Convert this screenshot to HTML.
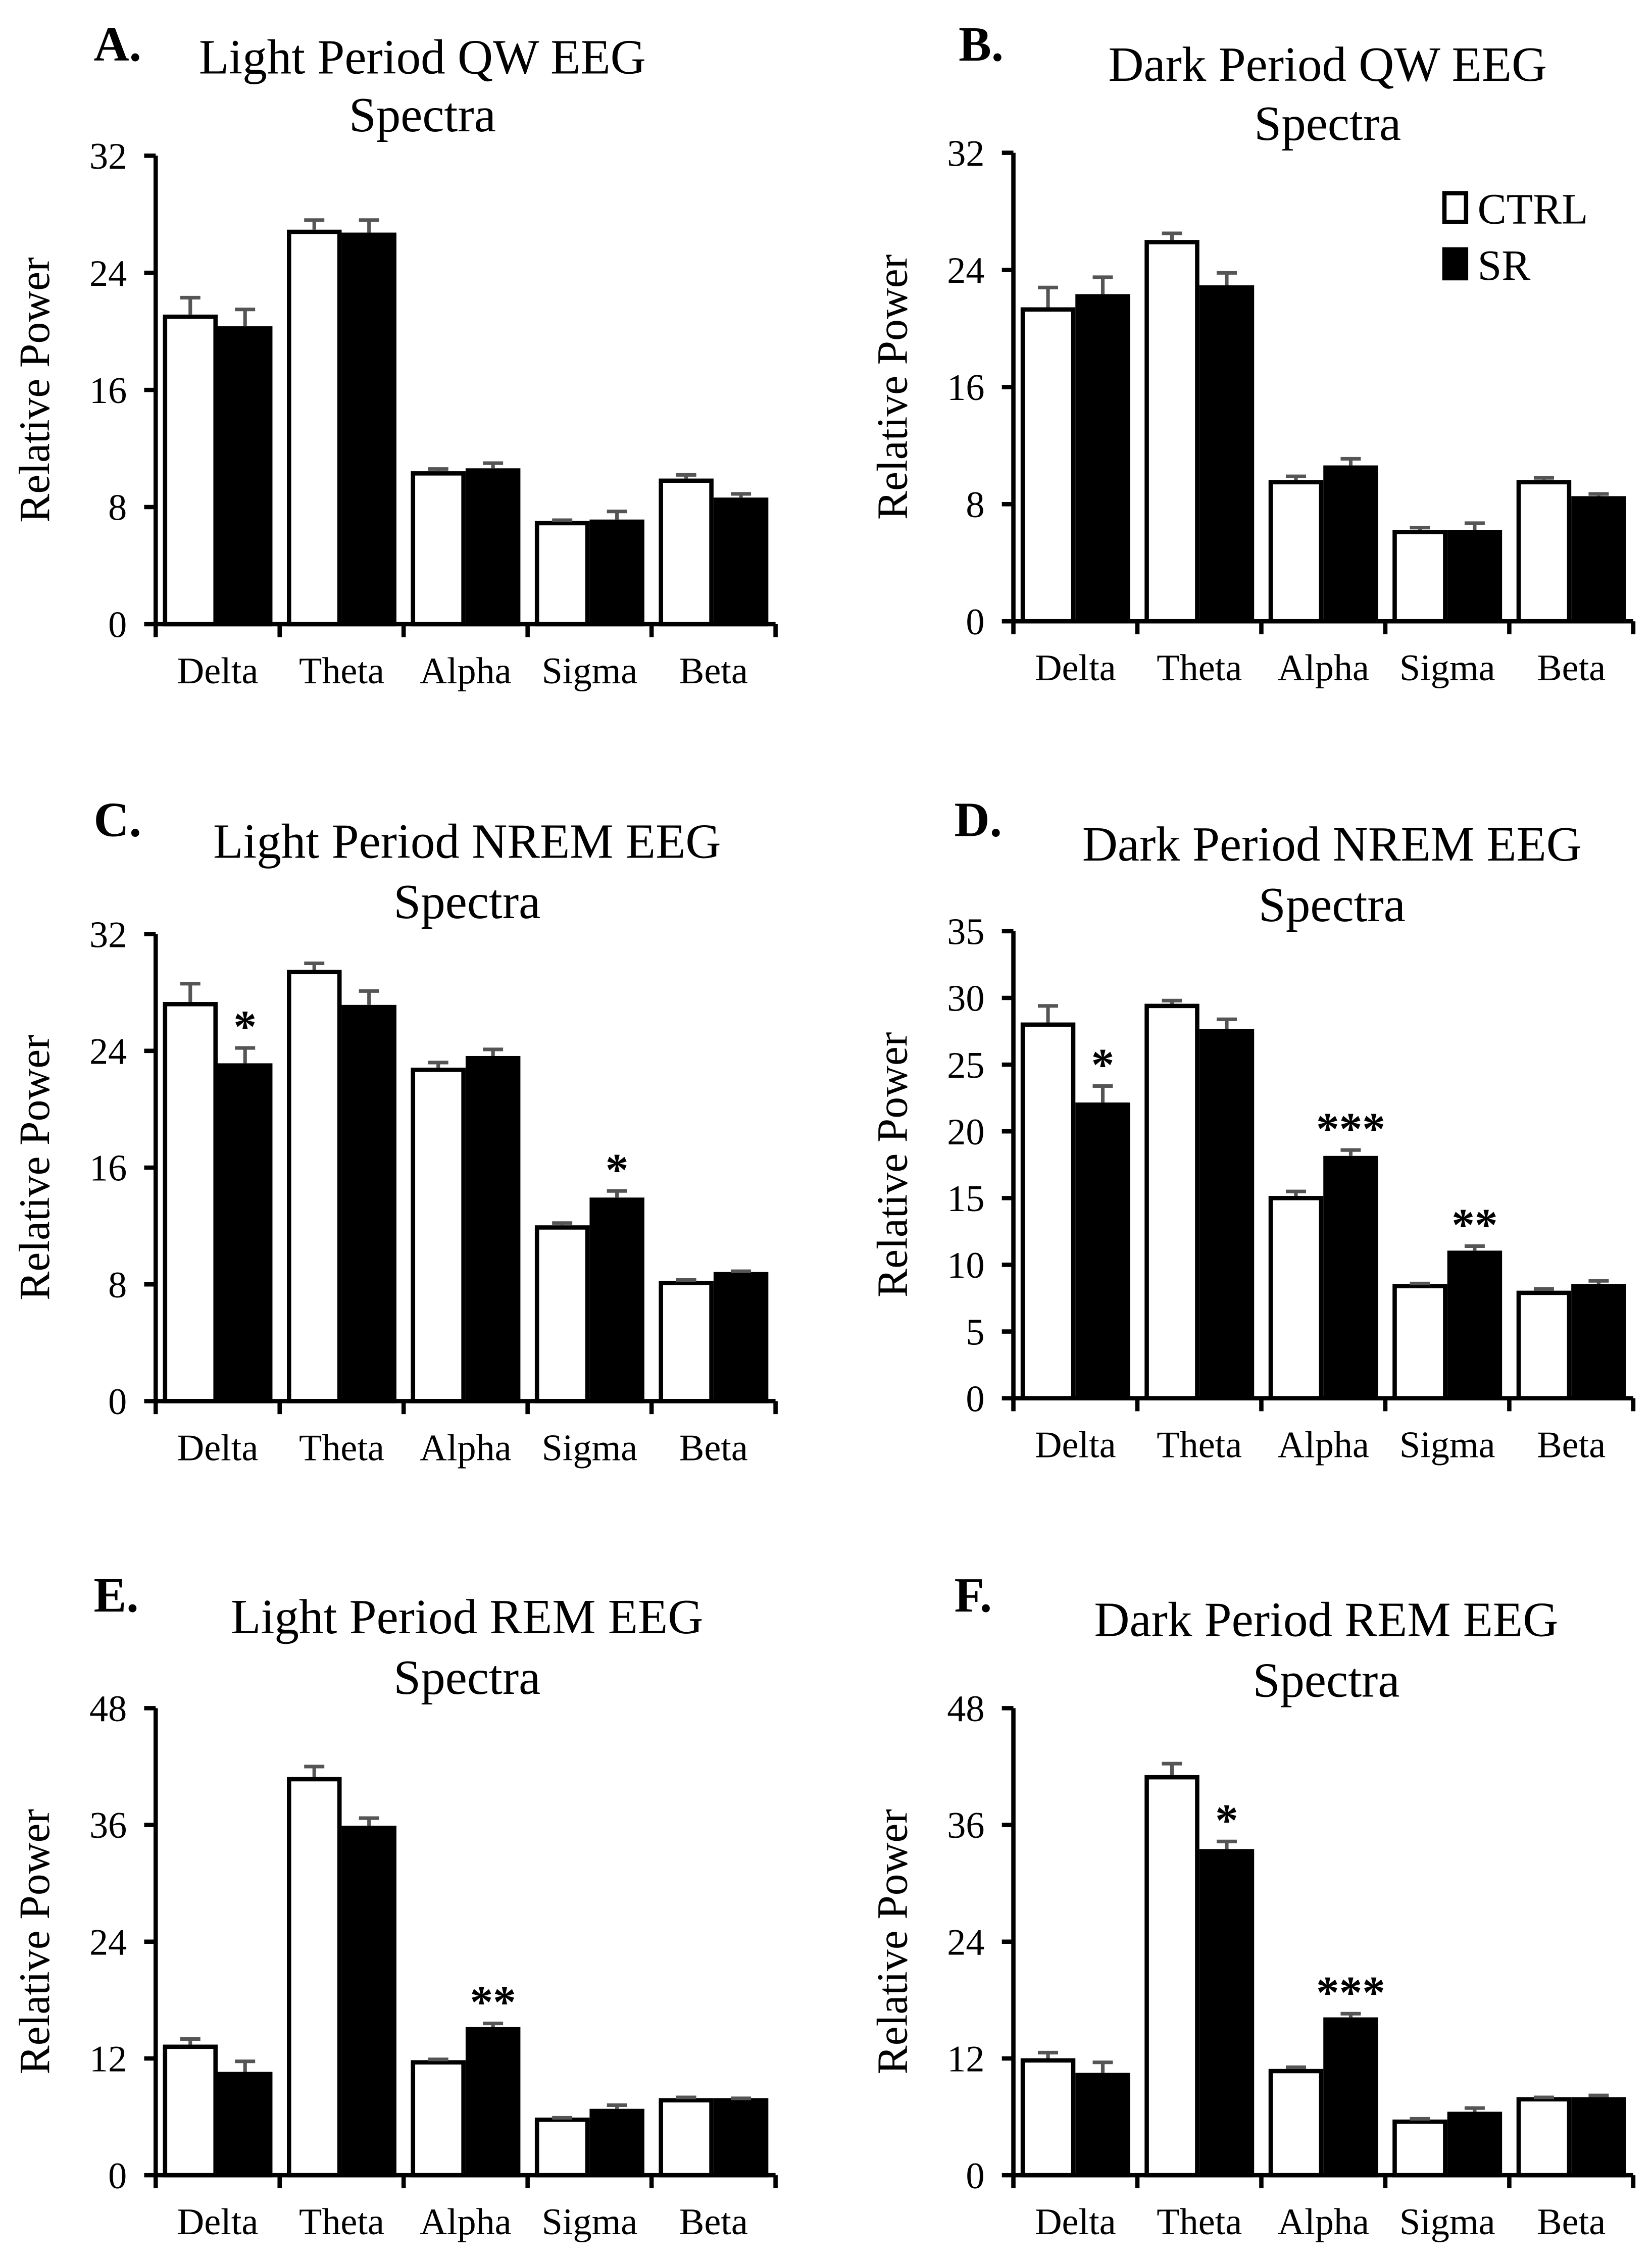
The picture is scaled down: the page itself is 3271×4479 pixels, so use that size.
<!DOCTYPE html>
<html><head><meta charset="utf-8"><style>
html,body{margin:0;padding:0;background:#fff}
svg{display:block}
text{font-family:"Liberation Serif",serif;fill:#000}
</style></head><body>
<svg id="fig" width="3271" height="4479" viewBox="0 0 1146 1569.2" xmlns="http://www.w3.org/2000/svg"></svg>
<script>
const categories = ["Delta","Theta","Alpha","Sigma","Beta"];
const ctrlA = [21.0,26.8,10.3,6.9,9.8], srA = [20.2,26.6,10.5,7.0,8.5];
const ctrlErrA = [1.3,0.8,0.3,0.2,0.4], srErrA = [1.3,1.0,0.5,0.7,0.4];
const ctrlB = [21.3,25.9,9.5,6.1,9.5], srB = [22.2,22.8,10.5,6.1,8.4];
const ctrlErrB = [1.5,0.6,0.4,0.3,0.3], srErrB = [1.3,1.0,0.6,0.6,0.3];
const ctrlC = [27.2,29.4,22.7,11.9,8.1], srC = [23.0,27.0,23.5,13.8,8.7];
const ctrlErrC = [1.4,0.6,0.5,0.3,0.2], srErrC = [1.2,1.1,0.6,0.6,0.2];
const ctrlD = [28.0,29.4,15.0,8.4,7.9], srD = [22.0,27.5,18.0,10.9,8.4];
const ctrlErrD = [1.4,0.4,0.5,0.2,0.3], srErrD = [1.4,0.9,0.6,0.5,0.4];
const ctrlE = [13.2,40.7,11.6,5.7,7.7], srE = [10.4,35.7,15.0,6.6,7.7];
const ctrlErrE = [0.8,1.3,0.3,0.2,0.3], srErrE = [1.3,1.0,0.6,0.6,0.2];
const ctrlF = [11.8,40.9,10.7,5.5,7.8], srF = [10.3,33.3,16.0,6.3,7.8];
const ctrlErrF = [0.8,1.4,0.4,0.3,0.2], srErrF = [1.3,1.0,0.6,0.6,0.4];
const starsC = ["*","","","*",""], starsD = ["*","","***","**",""];
const starsE = ["","","**","",""], starsF = ["","*","***","",""];
const ticks32 = [0,8,16,24,32], ticks35 = [0,5,10,15,20,25,30,35], ticks48 = [0,12,24,36,48];

const panels = [
 {id:"a",letter:"A.",t1:"Light Period QW EEG",t2:"Spectra",x0:108,top:108,bot:433,max:32,ticks:ticks32,c:ctrlA,s:srA,ce:ctrlErrA,se:srErrA,st:null,lx:65,ly:42,tx:293,ty1:51,ty2:91},
 {id:"b",letter:"B.",t1:"Dark Period QW EEG",t2:"Spectra",x0:703,top:106,bot:431,max:32,ticks:ticks32,c:ctrlB,s:srB,ce:ctrlErrB,se:srErrB,st:null,lx:665,ly:42,tx:921,ty1:56,ty2:97,legend:true},
 {id:"c",letter:"C.",t1:"Light Period NREM EEG",t2:"Spectra",x0:108,top:648,bot:972,max:32,ticks:ticks32,c:ctrlC,s:srC,ce:ctrlErrC,se:srErrC,st:starsC,lx:65,ly:580,tx:324,ty1:595,ty2:637},
 {id:"d",letter:"D.",t1:"Dark Period NREM EEG",t2:"Spectra",x0:703,top:646,bot:970,max:35,ticks:ticks35,c:ctrlD,s:srD,ce:ctrlErrD,se:srErrD,st:starsD,lx:662,ly:580,tx:924,ty1:597,ty2:639},
 {id:"e",letter:"E.",t1:"Light Period REM EEG",t2:"Spectra",x0:108,top:1185,bot:1509,max:48,ticks:ticks48,c:ctrlE,s:srE,ce:ctrlErrE,se:srErrE,st:starsE,lx:65,ly:1118,tx:324,ty1:1133,ty2:1175},
 {id:"f",letter:"F.",t1:"Dark Period REM EEG",t2:"Spectra",x0:703,top:1185,bot:1509,max:48,ticks:ticks48,c:ctrlF,s:srF,ce:ctrlErrF,se:srErrF,st:starsF,lx:662,ly:1118,tx:920,ty1:1135,ty2:1177}
];
const NS="http://www.w3.org/2000/svg";
const svg=document.getElementById("fig");
function mk(tag,attrs,parent,txt){const e=document.createElementNS(NS,tag);for(const k in attrs)e.setAttribute(k,attrs[k]);if(txt!==undefined)e.textContent=txt;parent.appendChild(e);return e;}
const GW=86, BW=38;
panels.forEach(p=>{
  const g=mk("g",{},svg);
  
  
  const y=v=>p.bot-(v/p.max)*(p.bot-p.top);
  const xc=i=>p.x0+GW*i+GW/2;
  let t=mk("text",{x:p.lx,y:p.ly,"font-size":34,"font-weight":"bold"},g,p.letter);
  
  t=mk("text",{x:p.tx,y:p.ty1,"font-size":34,"text-anchor":"middle"},g,p.t1);
  
  t=mk("text",{x:p.tx,y:p.ty2,"font-size":34,"text-anchor":"middle"},g,p.t2);
  
  const cy=(p.top+p.bot)/2, lxp=p.x0-74;
  t=mk("text",{x:lxp,y:cy,"font-size":30,"text-anchor":"middle",transform:`rotate(-90 ${lxp} ${cy})`},g,"Relative Power");
  
  categories.forEach((cat,i)=>{
    const c=xc(i);
    [[p.c[i],p.ce[i],"#fff","ctrl",c-BW],[p.s[i],p.se[i],"#000","sr",c]].forEach(([v,e,fill,nm,x])=>{
      let r=mk("rect",{x:x+1.5,y:y(v),width:BW-3,height:p.bot-y(v),fill:fill,stroke:"#000","stroke-width":3},g);
      
      const bx=x+BW/2;
      let l=mk("path",{d:`M${bx} ${y(v)-1.5} V${y(v+e)} M${bx-7} ${y(v+e)} H${bx+7}`,stroke:"#555","stroke-width":2.5,fill:"none"},g);
      
    });
    if(p.st&&p.st[i]){
      let s=mk("text",{x:c+BW/2,y:y(p.s[i]+p.se[i])-4,"font-size":32,"font-weight":"bold","text-anchor":"middle"},g,p.st[i]);
      
    }
    let lb=mk("text",{x:c,y:p.bot+41,"font-size":26,"text-anchor":"middle"},g,cat);
    
  });
  const xe=p.x0+GW*5;
  let ax=mk("path",{d:`M${p.x0} ${p.top} V${p.bot} H${xe}`,stroke:"#000","stroke-width":3,fill:"none"},g);
  
  for(let i=0;i<=5;i++){mk("line",{x1:p.x0+GW*i,x2:p.x0+GW*i,y1:p.bot,y2:p.bot+9,stroke:"#000","stroke-width":3},g);}
  p.ticks.forEach(v=>{
    mk("line",{x1:p.x0-8,x2:p.x0,y1:y(v),y2:y(v),stroke:"#000","stroke-width":3},g);
    let tl=mk("text",{x:p.x0-20,y:y(v)+9,"font-size":26,"text-anchor":"end"},g,String(v));
    
  });
  if(p.legend){
    const lg=mk("g",{},g);
    
    mk("rect",{x:1002,y:134,width:15,height:20,fill:"#fff",stroke:"#000","stroke-width":3},lg);
    mk("text",{x:1025,y:155,"font-size":30},lg,"CTRL");
    mk("rect",{x:1002,y:173,width:15,height:20,fill:"#000",stroke:"#000","stroke-width":3},lg);
    mk("text",{x:1025,y:194,"font-size":30},lg,"SR");
  }
});
</script>
</body></html>
